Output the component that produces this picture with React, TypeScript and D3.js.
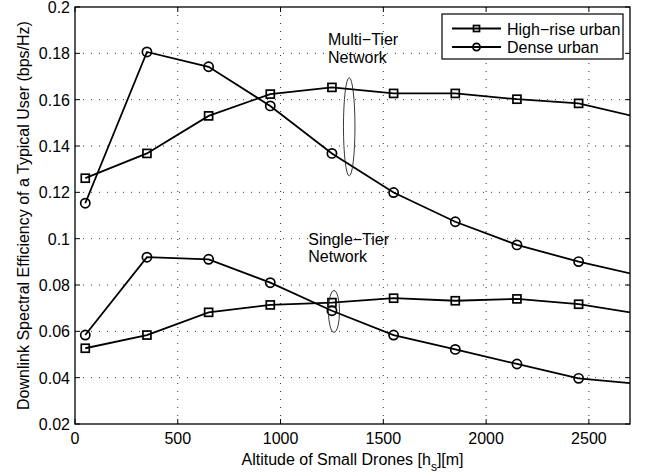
import { scaleLinear, line } from "d3";

const width = 645;
const height = 476;
const margin = { left: 75, right: 15, top: 7, bottom: 52 };
const font = "'Liberation Sans', Arial, Helvetica, sans-serif";

// altitude of the small drones [m]
const altitude = [50, 350, 650, 950, 1250, 1550, 1850, 2150, 2450, 2750];

// spectral efficiency (bps/Hz)
const multiHighRise = [0.1261, 0.1368, 0.153, 0.1624, 0.1653, 0.1627, 0.1627, 0.1602, 0.1584, 0.1522];
const multiDense = [0.1153, 0.1806, 0.1742, 0.1573, 0.1368, 0.1199, 0.1073, 0.0973, 0.0901, 0.084];
const singleHighRise = [0.0527, 0.0584, 0.0682, 0.0714, 0.0724, 0.0743, 0.0732, 0.074, 0.0717, 0.0675];
const singleDense = [0.0584, 0.092, 0.0911, 0.081, 0.0689, 0.0584, 0.0522, 0.0459, 0.0397, 0.0372];

const xTicks = [0, 500, 1000, 1500, 2000, 2500];
const yTicks = [0.02, 0.04, 0.06, 0.08, 0.1, 0.12, 0.14, 0.16, 0.18, 0.2];

const legendNames = ["High\u2212rise urban", "Dense urban"];

// annotation ellipses: [cx, cy, rx, ry] in data units
const ellipses = [
  [1334, 0.1483, 28, 0.0212],
  [1260, 0.0686, 27, 0.009],
];
// annotation labels: [x, y, text]
const notes: [number, number, string][] = [
  [1231, 0.1836, "Multi\u2212Tier"],
  [1231, 0.1757, "Network"],
  [1135, 0.0973, "Single\u2212Tier"],
  [1135, 0.0899, "Network"],
];

const series = [
  { values: multiHighRise, marker: "square" },
  { values: multiDense, marker: "circle" },
  { values: singleHighRise, marker: "square" },
  { values: singleDense, marker: "circle" },
];

function Marker({ kind, x, y, s }: { kind: string; x: number; y: number; s: number }) {
  if (kind === "square")
    return <rect x={x - s / 2} y={y - s / 2} width={s} height={s} fill="none" stroke="#000" strokeWidth={1.7} />;
  return <circle cx={x} cy={y} r={s / 2 + 0.6} fill="none" stroke="#000" strokeWidth={1.7} />;
}

export default function App() {
  const x0 = margin.left;
  const x1 = width - margin.right;
  const y0 = height - margin.bottom;
  const y1 = margin.top;

  const xScale = scaleLinear().domain([0, 2700]).range([x0, x1]);
  const yScale = scaleLinear().domain([0.02, 0.2]).range([y0, y1]);

  const path = line<number>()
    .x((_, i) => xScale(altitude[i]))
    .y(d => yScale(d));

  const tick = 5;
  const fmt = (v: number) => String(+v.toFixed(2));

  return (
    <svg width={width} height={height} style={{ position: "absolute", left: 0, top: 0, display: "block" }} fontFamily={font}>
      <defs>
        <clipPath id="plot">
          <rect x={x0} y={y1} width={x1 - x0} height={y0 - y1} />
        </clipPath>
      </defs>
      <rect x={0} y={0} width={width} height={height} fill="#fff" />

      {/* grid */}
      {xTicks.filter(t => t > 0).map(t => (
        <line key={"gx" + t} x1={xScale(t)} x2={xScale(t)} y1={y0} y2={y1} stroke="#333" strokeWidth={1} strokeDasharray="1,7" />
      ))}
      {yTicks.filter(t => t > 0.02 && t < 0.2).map(t => (
        <line key={"gy" + t} x1={x0} x2={x1} y1={yScale(t)} y2={yScale(t)} stroke="#333" strokeWidth={1} strokeDasharray="1,7" />
      ))}

      {/* ticks, inside on all sides */}
      {xTicks.map(t => (
        <g key={"tx" + t}>
          <line x1={xScale(t)} x2={xScale(t)} y1={y0} y2={y0 - tick} stroke="#000" />
          <line x1={xScale(t)} x2={xScale(t)} y1={y1} y2={y1 + tick} stroke="#000" />
          <text x={xScale(t)} y={y0 + 19.5} fontSize={16} textAnchor="middle">{t}</text>
        </g>
      ))}
      {yTicks.map(t => (
        <g key={"ty" + t}>
          <line x1={x0} x2={x0 + tick} y1={yScale(t)} y2={yScale(t)} stroke="#000" />
          <line x1={x1} x2={x1 - tick} y1={yScale(t)} y2={yScale(t)} stroke="#000" />
          <text x={x0 - 5} y={yScale(t) + 6} fontSize={16} textAnchor="end">{fmt(t)}</text>
        </g>
      ))}

      {/* series */}
      <g clipPath="url(#plot)">
        {series.map((s, i) => (
          <g key={"s" + i}>
            <path d={path(s.values) ?? ""} fill="none" stroke="#000" strokeWidth={1.8} />
            {s.values.map((v, j) => (
              <Marker key={j} kind={s.marker} x={xScale(altitude[j])} y={yScale(v)} s={8} />
            ))}
          </g>
        ))}
      </g>

      {/* annotations */}
      {ellipses.map((e, i) => (
        <ellipse key={"e" + i} cx={xScale(e[0])} cy={yScale(e[1])}
          rx={xScale(e[2]) - xScale(0)} ry={yScale(0) - yScale(e[3])}
          fill="none" stroke="#222" strokeWidth={0.9} />
      ))}
      {notes.map((n, i) => (
        <text key={"n" + i} x={xScale(n[0])} y={yScale(n[1])} fontSize={16}>{n[2]}</text>
      ))}

      {/* axes box */}
      <rect x={x0} y={y1} width={x1 - x0} height={y0 - y1} fill="none" stroke="#000" strokeWidth={1.3} />

      {/* legend */}
      <g>
        <rect x={442} y={14} width={181} height={45} fill="#fff" stroke="#000" strokeWidth={1.2} />
        {legendNames.map((name, i) => {
          const ly = 28.5 + i * 18.5;
          return (
            <g key={"l" + i}>
              <line x1={452} x2={501} y1={ly} y2={ly} stroke="#000" strokeWidth={1.8} />
              <Marker kind={i === 0 ? "square" : "circle"} x={476.5} y={ly} s={6} />
              <text x={507} y={ly + 6} fontSize={16}>{name}</text>
            </g>
          );
        })}
      </g>

      {/* axis labels */}
      <text x={(x0 + x1) / 2} y={465} fontSize={16} textAnchor="middle">
        Altitude of Small Drones [h<tspan dy={6} fontSize={12}>s</tspan><tspan dy={-6}>][m]</tspan>
      </text>
      <text transform={`translate(29,${(y0 + y1) / 2}) rotate(-90)`} fontSize={16} textAnchor="middle">
        Downlink Spectral Efficiency of a Typical User (bps/Hz)
      </text>
    </svg>
  );
}
